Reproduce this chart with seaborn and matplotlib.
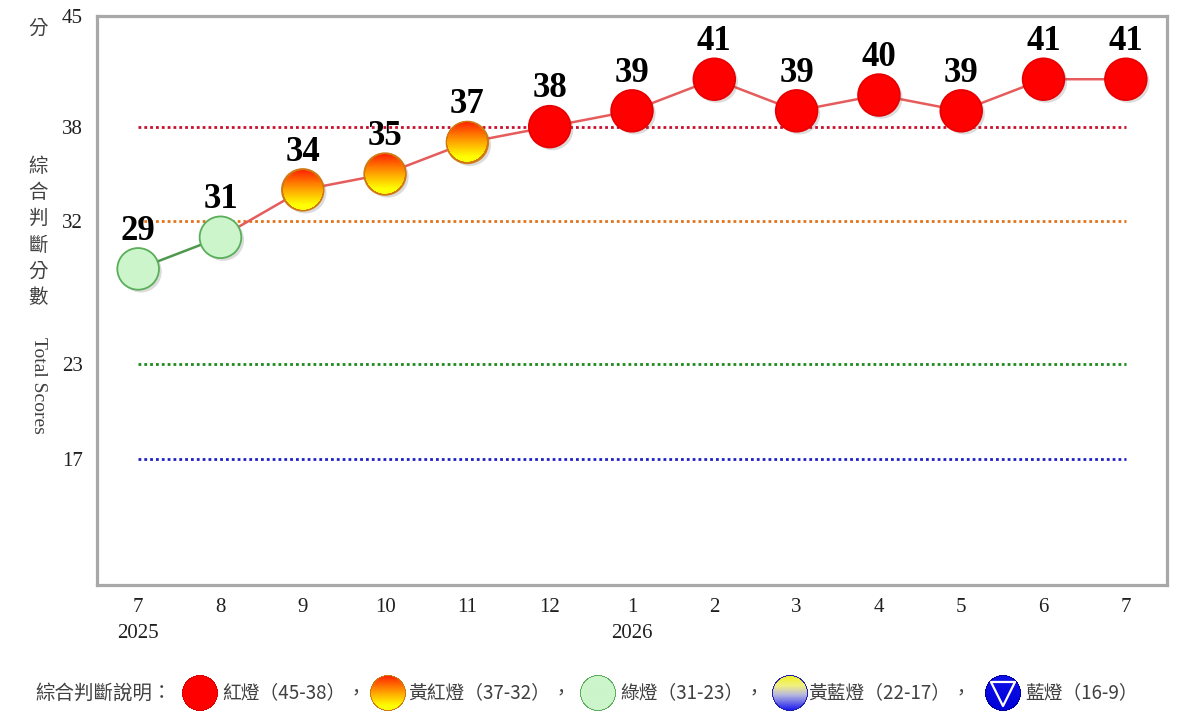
import numpy as np
import pandas as pd
import matplotlib
matplotlib.use("Agg")
import matplotlib.pyplot as plt
import seaborn as sns
import matplotlib.patheffects as pe
from matplotlib.colors import to_rgb
from matplotlib.offsetbox import OffsetImage, AnnotationBbox

# ---------------- data ----------------
months = [7, 8, 9, 10, 11, 12, 1, 2, 3, 4, 5, 6, 7]
years = ["2025", "", "", "", "", "", "2026", "", "", "", "", "", ""]
scores = [29, 31, 34, 35, 37, 38, 39, 41, 39, 40, 39, 41, 41]
signals = ["green", "green", "yellow_red", "yellow_red", "yellow_red",
           "red", "red", "red", "red", "red", "red", "red", "red"]
level_values = [38, 32, 23, 17]
level_colors = ["#C8102E", "#E3731B", "#1E8A1E", "#1F1FC8"]
y_ticks = [45, 38, 32, 23, 17]
legend_title = "綜合判斷說明："
legend_labels = ["紅燈（45-38）", "黃紅燈（37-32）", "綠燈（31-23）", "黃藍燈（22-17）", "藍燈（16-9）"]

# ---------------- style ----------------
sns.set_theme(style="white")
SERIF = ["Liberation Serif", "Noto Sans CJK TC", "DejaVu Sans"]
CJK = ["Noto Sans CJK TC", "DejaVu Sans"]
plt.rcParams["font.family"] = SERIF

DPI = 100
fig = plt.figure(figsize=(12, 7.22), dpi=DPI)
ax = fig.add_axes([97 / 1200, 1 - 585 / 722, (1167 - 97) / 1200, (585 - 16) / 722])


def ball(stops, edge, n=200, ring=0.06):
    yy, xx = np.mgrid[0:n, 0:n] + 0.5
    c = n / 2
    r = np.hypot(xx - c, yy - c) / c
    t = yy / n
    pos = [p for p, _ in stops]
    cols = np.array([to_rgb(col) for _, col in stops])
    img = np.zeros((n, n, 4))
    for k in range(3):
        img[..., k] = np.interp(t, pos, cols[:, k])
    e = np.array(to_rgb(edge))
    rm = np.clip((r - (1 - ring)) * c + 0.5, 0, 1)[..., None]
    img[..., :3] = img[..., :3] * (1 - rm) + e * rm
    img[..., 3] = np.clip((1 - r) * c + 0.5, 0, 1)
    return img


def zoom_for(px, n=200):
    return px / (n * DPI / 72)


df = pd.DataFrame({"idx": np.arange(len(scores)), "score": scores, "signal": signals})

# reference threshold lines
ax.hlines(level_values, 0, len(scores) - 1, colors=level_colors,
          linestyles=(0, (1, 1.1)), lw=2.0, zorder=2)

# connecting lines
sns.lineplot(data=df.iloc[:2], x="idx", y="score", color="#4E984E", lw=1.8,
             estimator=None, ax=ax, zorder=3)
sns.lineplot(data=df.iloc[1:], x="idx", y="score", color="#E65C5C", lw=1.8,
             estimator=None, ax=ax, zorder=3)

palette = {"red": "#FF0000", "yellow_red": "#FF9A00", "green": "#CCF5CC"}
edge_map = {"red": "#E80000", "yellow_red": "#D27A1A", "green": "#5AAE5A"}
sns.scatterplot(data=df, x="idx", y="score", hue="signal", palette=palette,
                s=900, edgecolor=[edge_map[s] for s in signals], linewidth=1.3,
                legend=False, ax=ax, zorder=4)
ax.collections[-1].set_path_effects([pe.SimplePatchShadow(offset=(2, -2), alpha=0.22, shadow_rgbFace="#606060"),
                                     pe.Normal()])

yr_ball = ball([(0.0, "#FF1E00"), (0.45, "#FF9A00"), (0.85, "#FFFF00"), (1.0, "#FFFF10")], "#CF7A10")
for i, (s, v) in enumerate(zip(signals, scores)):
    if s == "yellow_red":
        ab = AnnotationBbox(OffsetImage(yr_ball, zoom=zoom_for(42)), (i, v),
                            frameon=False, pad=0, zorder=5)
        ax.add_artist(ab)

# value labels
for i, v in enumerate(scores):
    ax.annotate(str(v), (i, v), xytext=(0, 21), textcoords="offset points",
                ha="center", va="baseline", fontsize=25, fontweight="bold",
                color="black", family=SERIF, zorder=6)

# axes
ax.set_xlim(-0.5, len(scores) - 0.5)
ax.set_ylim(9, 45)
ax.set_xticks(range(len(scores)))
ax.set_xticklabels([f"{m}\n{y}" if y else str(m) for m, y in zip(months, years)],
                   linespacing=1.5)
ax.set_yticks(y_ticks)
ax.set_yticklabels([str(t) for t in y_ticks])
ax.tick_params(axis="both", length=0, labelsize=15, colors="#202020")
ax.tick_params(axis="y", pad=10)
ax.tick_params(axis="x", pad=9)
ax.set_xlabel("")
ax.set_ylabel("")
ax.grid(False)
for sp in ax.spines.values():
    sp.set_visible(True)
    sp.set_color("#A8A8A8")
    sp.set_linewidth(2.3)

# y axis titles
fig.text(38 / 1200, 1 - 28 / 722, "分", ha="center", va="center", family=CJK,
         fontsize=14, color="#404040")
fig.text(38 / 1200, 1 - 232 / 722, "綜\n合\n判\n斷\n分\n數", ha="center", va="center",
         family=CJK, fontsize=14, color="#404040", linespacing=1.33)
fig.text(38 / 1200, 1 - 385 / 722, "Total Scores", ha="center", va="center",
         rotation=270, family=SERIF, fontsize=14, color="#404040")

# legend (figure-pixel overlay)
lax = fig.add_axes([0, 0, 1, 1], zorder=10)
lax.set_xlim(0, 1200)
lax.set_ylim(722, 0)
lax.axis("off")

LY = 693
lax.text(35, LY, legend_title, ha="left", va="center", family=CJK, fontsize=14, color="#404040")
balls = [
    ball([(0, "#FF0000"), (1, "#FF0000")], "#E00000"),
    ball([(0.0, "#FF1E00"), (0.45, "#FF9A00"), (0.85, "#FFFF00"), (1.0, "#FFFF10")], "#CF7A10"),
    ball([(0, "#CCF5CC"), (1, "#CCF5CC")], "#5AAE5A"),
    ball([(0.0, "#F0F020"), (0.3, "#F2F080"), (0.55, "#B8B8E0"), (1.0, "#1010F0")], "#2020B0"),
    ball([(0, "#1010E8"), (1, "#0000D8")], "#0000A0"),
]
ball_x = [200, 388, 598, 790, 1003]
text_x = [222, 408, 620, 808, 1025]
for k, (bx, tx, b, lab) in enumerate(zip(ball_x, text_x, balls, legend_labels)):
    lax.add_artist(AnnotationBbox(OffsetImage(b, zoom=zoom_for(36)), (bx, LY),
                                  frameon=False, pad=0))
    t = lax.text(tx, LY, lab, ha="left", va="center", family=CJK, fontsize=13.5, color="#404040")
    if k < len(legend_labels) - 1:
        lax.annotate("，", xy=(1, 0.5), xycoords=t, xytext=(1, 0), textcoords="offset points",
                     ha="left", va="center", family=CJK, fontsize=13.5, color="#404040")
lax.scatter([ball_x[-1]], [LY + 1], marker="v", s=300, facecolor="none",
            edgecolor="white", linewidths=1.6, zorder=12)

fig.savefig("out.png", dpi=DPI, facecolor="white")
